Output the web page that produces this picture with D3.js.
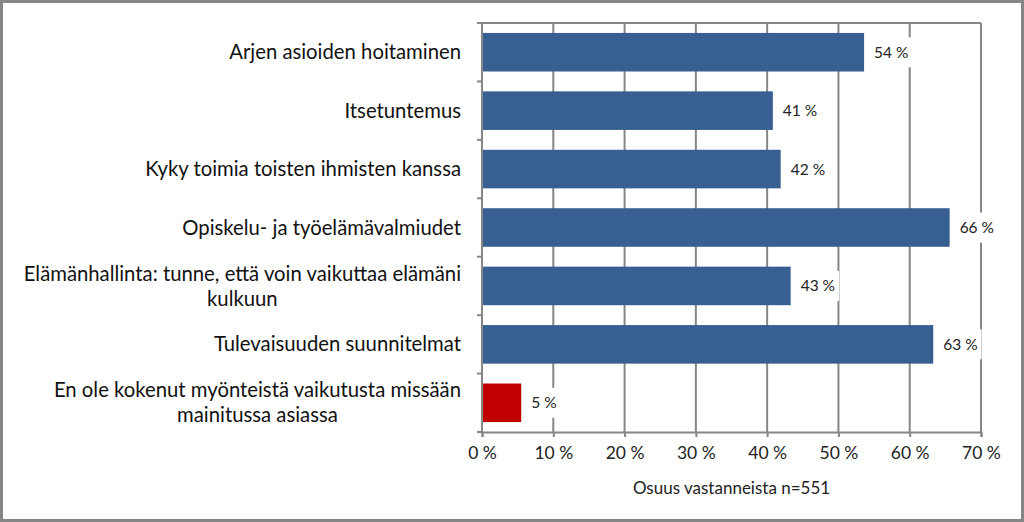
<!DOCTYPE html>
<html><head><meta charset="utf-8">
<script src="https://cdn.jsdelivr.net/npm/d3@7"></script>
<style>body{margin:0;background:#fff}svg{display:block}</style>
</head><body>
<script>
const categories = [
  "Arjen asioiden hoitaminen",
  "Itsetuntemus",
  "Kyky toimia toisten ihmisten kanssa",
  "Opiskelu- ja työelämävalmiudet",
  "Elämänhallinta: tunne, että voin vaikuttaa elämäni|kulkuun",
  "Tulevaisuuden suunnitelmat",
  "En ole kokenut myönteistä vaikutusta missään|mainitussa asiassa"
];
const values = [53.6, 40.8, 41.9, 65.6, 43.3, 63.3, 5.5];
const valueLabels = ["54 %", "41 %", "42 %", "66 %", "43 %", "63 %", "5 %"];
const barColors = ["#375F92","#375F92","#375F92","#375F92","#375F92","#375F92","#C00000"];
const xTicks = [0,10,20,30,40,50,60,70];
const xTitle = "Osuus vastanneista n=551";

const W = 1024, H = 522;
const m = {left: 482, right: 43, top: 23, bottom: 90};
const font = "Lato, 'Open Sans', sans-serif";
const svg = d3.select("body").append("svg").attr("width", W).attr("height", H);
svg.append("rect").attr("x",1.5).attr("y",1.5).attr("width",W-3).attr("height",H-3)
  .attr("fill","#fff").attr("stroke","#868686").attr("stroke-width",3);

const x = d3.scaleLinear().domain([0,70]).range([m.left, W - m.right]);
const y = d3.scaleBand().domain(categories).range([m.top, H - m.bottom]).paddingInner(0.34).paddingOuter(0.17);
const yb = d3.scaleBand().domain(categories).range([m.top, H - m.bottom]);

// grid
svg.append("g").selectAll("line").data(xTicks.slice(1)).join("line")
  .attr("x1", d => x(d)).attr("x2", d => x(d)).attr("y1", m.top).attr("y2", H - m.bottom)
  .attr("stroke","#868686").attr("stroke-width",2);
svg.append("line").attr("x1", m.left).attr("x2", W-m.right).attr("y1", m.top).attr("y2", m.top)
  .attr("stroke","#868686").attr("stroke-width",2);

// bars
svg.append("g").selectAll("rect").data(values).join("rect")
  .attr("x", x(0)).attr("y", (d,i) => y(categories[i]))
  .attr("width", d => x(d) - x(0)).attr("height", y.bandwidth())
  .attr("fill", (d,i) => barColors[i]);

// value labels with white background
const lg = svg.append("g").selectAll("g").data(values).join("g")
  .attr("transform", (d,i) => `translate(${x(d)+10},${y(categories[i]) + y.bandwidth()/2})`);
const bg = lg.append("rect").attr("fill","#fff");
const vt = lg.append("text").text((d,i)=>valueLabels[i]).attr("dy","0.35em")
  .attr("font-family", font).attr("font-size",15.5).attr("fill","#222");
vt.each(function(){
  const w = this.getComputedTextLength();
  d3.select(this.previousSibling).attr("x",-4).attr("y",-15).attr("width", w+8).attr("height",30);
});

// x axis
const xa = svg.append("g").attr("transform",`translate(0,${H-m.bottom})`)
  .call(d3.axisBottom(x).tickValues(xTicks).tickFormat(d => d + " %").tickSize(5).tickPadding(10));
xa.select(".domain").attr("stroke","#868686").attr("stroke-width",2);
xa.selectAll(".tick line").attr("stroke","#868686").attr("stroke-width",2);
xa.selectAll("text").attr("font-family", font).attr("font-size",17.5).attr("fill","#222");

// y axis
const ya = svg.append("g").attr("transform",`translate(${m.left},0)`);
ya.append("line").attr("x1",0).attr("x2",0).attr("y1",m.top).attr("y2",H-m.bottom).attr("stroke","#868686").attr("stroke-width",2);
const bounds = categories.map(c => yb(c)).concat([H - m.bottom]);
ya.selectAll("line.t").data(bounds).join("line").attr("class","t")
  .attr("x1",-5).attr("x2",0).attr("y1",d=>d).attr("y2",d=>d).attr("stroke","#868686").attr("stroke-width",2);

// category labels
const labelRight = 461;
categories.forEach(c => {
  const lines = c.split("|");
  const cy = yb(c) + yb.bandwidth()/2;
  const lh = 25;
  const g = svg.append("g");
  const texts = lines.map((ln, j) => g.append("text").text(ln)
    .attr("font-family", font).attr("font-size",20.3).attr("fill","#111")
    .attr("y", cy + (j - (lines.length-1)/2)*lh).attr("dy","0.35em"));
  const widths = texts.map(t => t.node().getComputedTextLength());
  const maxW = Math.max(...widths);
  const center = labelRight - maxW/2;
  texts.forEach(t => t.attr("x", center).attr("text-anchor","middle"));
});

svg.append("text").text(xTitle).attr("x", (x(0)+x(70))/2).attr("y", 488).attr("dy","0.35em")
  .attr("text-anchor","middle").attr("font-family", font).attr("font-size",17).attr("fill","#222");
</script>
</body></html>
